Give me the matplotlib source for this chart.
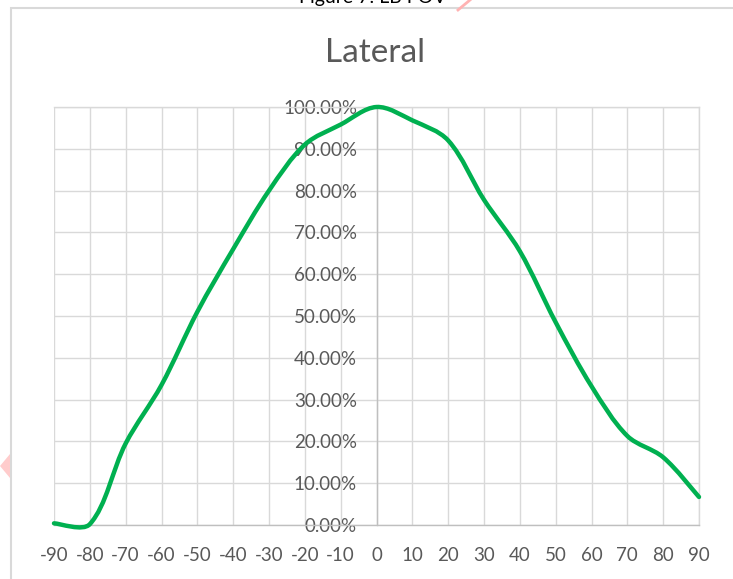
import numpy as np
import matplotlib
matplotlib.use("Agg")
import matplotlib.pyplot as plt
from matplotlib.path import Path
from matplotlib.patches import PathPatch, Rectangle, Polygon
from matplotlib.lines import Line2D
from matplotlib.ticker import PercentFormatter

# data (angle in degrees, relative response in %)
angles = [-90, -80, -70, -60, -50, -40, -30, -20, -10, 0,
          10, 20, 30, 40, 50, 60, 70, 80, 90]
lateral = [0.4, 0.2, 19.5, 33.5, 51, 66, 80, 91, 95.8, 100,
           96.8, 92, 77.8, 65.5, 48.5, 33.2, 21.3, 16.2, 6.7]
x_ticks = list(range(-90, 91, 10))
y_ticks = list(range(0, 101, 10))
title = "Lateral"

W, H = 733, 579
plt.rcParams['font.family'] = ['Lato', 'DejaVu Sans']
plt.rcParams['axes.unicode_minus'] = False

fig = plt.figure(figsize=(W / 100, H / 100), dpi=100)
fig.patch.set_facecolor("white")

# plot area in pixels
left, right, top, bottom = 54, 699, 107, 525
ax = fig.add_axes([left / W, 1 - bottom / H, (right - left) / W, (bottom - top) / H])

ax.set_xlim(-90, 90)
ax.set_ylim(0, 100)
sx = (right - left) / 180.0
sy = (bottom - top) / 100.0


def smooth_path(xs, ys):
    # excel-like smoothing: bezier segments, tangents weighted by segment length (pixels)
    pts = np.column_stack([xs, ys]).astype(float)
    px = pts * [sx, sy]
    n = len(pts)
    d = np.hypot(*(px[1:] - px[:-1]).T)
    tang = np.zeros_like(pts)
    for i in range(n):
        a = pts[max(i - 1, 0)]
        b = pts[min(i + 1, n - 1)]
        tang[i] = b - a
    verts = [tuple(pts[0])]
    codes = [Path.MOVETO]
    for i in range(n - 1):
        dl = d[i - 1] if i > 0 else d[i]
        dr = d[i + 1] if i < n - 2 else d[i]
        k0 = d[i] / (dl + d[i]) / 3 if i > 0 else 1 / 6
        k1 = d[i] / (d[i] + dr) / 3 if i < n - 2 else 1 / 6
        c1 = pts[i] + tang[i] * k0
        c2 = pts[i + 1] - tang[i + 1] * k1
        verts += [tuple(c1), tuple(c2), tuple(pts[i + 1])]
        codes += [Path.CURVE4] * 3
    return Path(verts, codes)


ax.add_patch(PathPatch(smooth_path(angles, lateral), facecolor="none",
                       edgecolor="#00b050", lw=3.2, capstyle="round",
                       joinstyle="round", clip_on=False, zorder=5))

ax.set_xticks(x_ticks)
ax.set_yticks(y_ticks)
ax.yaxis.set_major_formatter(PercentFormatter(decimals=2))
ax.grid(True, color="#d9d9d9", lw=1.0)
ax.set_axisbelow(True)

for s in ["top", "right"]:
    ax.spines[s].set_color("#d9d9d9")
    ax.spines[s].set_linewidth(1.0)
ax.spines["left"].set_position(("data", 0))
ax.spines["left"].set_color("#bfbfbf")
ax.spines["bottom"].set_color("#bfbfbf")
ax.spines["left"].set_linewidth(1.0)
ax.spines["bottom"].set_linewidth(1.0)

ax.tick_params(axis="both", length=0, labelsize=13.5, labelcolor="#595959")
ax.tick_params(axis="y", pad=14)
ax.tick_params(axis="x", pad=16)

fig.text(375 / W, 1 - 53 / H, title, ha="center", va="center",
         fontsize=24, color="#595959")

# chart area frame and bits of the page around it
fig.add_artist(Rectangle((11 / W, -0.1), 1.2, 1 - 8 / H + 0.1,
                         transform=fig.transFigure, fill=False,
                         edgecolor="#d9d9d9", lw=1.5))
fig.text(373 / W, 1 - 3 / H, "Figure 7: LB FOV", ha="center", va="baseline",
         fontsize=14, color="black")
fig.add_artist(Line2D([458 / W, 470 / W], [1 - 10 / H, 1.0],
                      transform=fig.transFigure, color="#ffb3b3", lw=2))
fig.add_artist(Polygon([[0, 1 - 466 / H], [10 / W, 1 - 454 / H], [10 / W, 1 - 478 / H]],
                       closed=True, transform=fig.transFigure,
                       facecolor="#ffcccc", edgecolor="none"))

fig.savefig("out.png", dpi=100)
